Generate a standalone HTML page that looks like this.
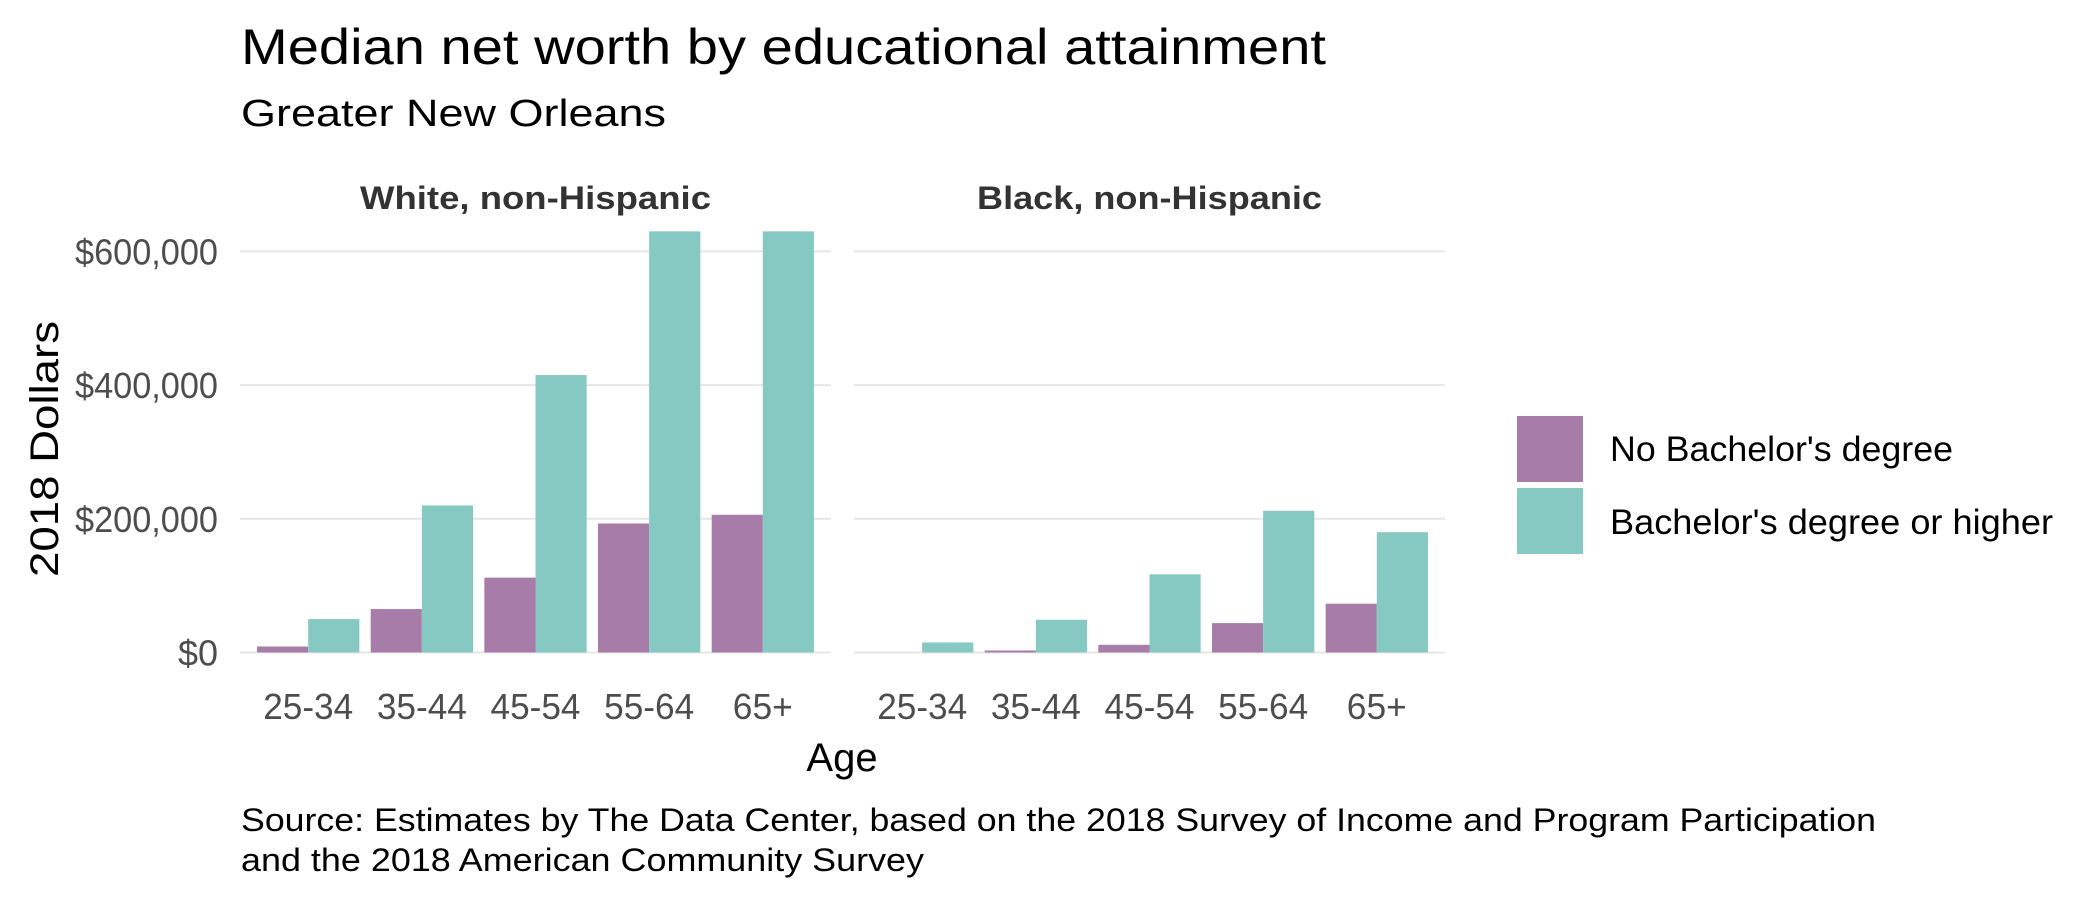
<!DOCTYPE html>
<html><head><meta charset="utf-8"><style>
html,body{margin:0;padding:0;background:#fff;}
svg{display:block;font-family:"Liberation Sans",sans-serif;}
</style></head><body>
<svg id="chart" width="2100" height="900" viewBox="0 0 2100 900">
<text x="241" y="64" font-size="50" fill="#000" textLength="1085" lengthAdjust="spacingAndGlyphs">Median net worth by educational attainment</text>
<text x="241" y="126" font-size="38" fill="#000" textLength="425" lengthAdjust="spacingAndGlyphs">Greater New Orleans</text>
<text x="535.5" y="209" font-size="32" font-weight="bold" fill="#333" text-anchor="middle" textLength="351" lengthAdjust="spacingAndGlyphs">White, non-Hispanic</text>
<text x="1149.5" y="209" font-size="32" font-weight="bold" fill="#333" text-anchor="middle" textLength="345" lengthAdjust="spacingAndGlyphs">Black, non-Hispanic</text>
<g id="grid"></g>
<g id="bars"></g>
<g id="yticks"></g>
<g id="xticks"></g>
<text transform="translate(58,449) rotate(-90)" font-size="40" fill="#000" text-anchor="middle" textLength="256" lengthAdjust="spacingAndGlyphs">2018 Dollars</text>
<text x="842" y="771" font-size="40" fill="#000" text-anchor="middle">Age</text>
<rect x="1517" y="416" width="66" height="66" fill="#a87ca8"/>
<rect x="1517" y="488" width="66" height="66" fill="#86c8c2"/>
<text x="1610" y="461" font-size="35" fill="#000" textLength="343" lengthAdjust="spacingAndGlyphs">No Bachelor's degree</text>
<text x="1610" y="534" font-size="35" fill="#000" textLength="443" lengthAdjust="spacingAndGlyphs">Bachelor's degree or higher</text>
<text x="241" y="831" font-size="32" fill="#000" textLength="1635" lengthAdjust="spacingAndGlyphs">Source: Estimates by The Data Center, based on the 2018 Survey of Income and Program Participation</text>
<text x="241" y="871" font-size="32" fill="#000" textLength="683" lengthAdjust="spacingAndGlyphs">and the 2018 American Community Survey</text>
</svg>
<script>
const categories = ["25-34","35-44","45-54","55-64","65+"];
const panels = ["White, non-Hispanic","Black, non-Hispanic"];
const whiteNoBach = [9000, 65000, 112000, 193000, 206000];
const whiteBach = [50000, 220000, 415000, 630000, 630000];
const blackNoBach = [0, 3000, 11500, 44000, 73000];
const blackBach = [15000, 49000, 117000, 212000, 180000];
const yTicks = [0, 200000, 400000, 600000];
const yTickLabels = ["$0","$200,000","$400,000","$600,000"];

const NS = "http://www.w3.org/2000/svg";
const panelX = [240, 854], panelW = 591;
const yMax = 630000;
function y(v){ return 652.5 - Math.min(v, yMax) * (401.1/600000); }
function xCenter(p, i){ const u = panelW/5.2; return panelX[p] + (0.6 + i) * u; }
const unit = panelW/5.2, barW = unit*0.45;
function mk(tag, attrs){ const e=document.createElementNS(NS,tag); for(const k in attrs) e.setAttribute(k, attrs[k]); return e; }

const grid=document.getElementById('grid'), bars=document.getElementById('bars'), yt=document.getElementById('yticks'), xt=document.getElementById('xticks');
const tickW = [null,143,143,143];
yTicks.forEach((t,i)=>{
  [0,1].forEach(p=>{
    const l = mk('line',{x1:panelX[p],x2:panelX[p]+panelW,y1:y(t),y2:y(t),stroke:'#e6e6e6','stroke-width':2});
    
    
    grid.appendChild(l);
  });
  const tx = mk('text',{x:218,y:y(t)+13,'font-size':36,fill:'#4d4d4d','text-anchor':'end'});
  if(tickW[i]){ tx.setAttribute('textLength',tickW[i]); tx.setAttribute('lengthAdjust','spacingAndGlyphs'); }
  tx.textContent = yTickLabels[i];
  
  
  yt.appendChild(tx);
});
const series = [[whiteNoBach, whiteBach],[blackNoBach, blackBach]];
const colors = ['#a87ca8','#86c8c2'];
[0,1].forEach(p=>{
  categories.forEach((c,i)=>{
    const cx = xCenter(p,i);
    [0,1].forEach(s=>{
      const v = series[p][s][i];
      const r = mk('rect',{x:cx - barW + s*barW, y:y(v), width:barW, height:652.5-y(v), fill:colors[s]});
      
      
      bars.appendChild(r);
    });
    const tx = mk('text',{x:cx,y:719,'font-size':36,fill:'#4d4d4d','text-anchor':'middle'});
    if(c!=="65+"){ tx.setAttribute('textLength',90); tx.setAttribute('lengthAdjust','spacingAndGlyphs'); }
    else { tx.setAttribute('textLength',60); tx.setAttribute('lengthAdjust','spacingAndGlyphs'); }
    tx.textContent = c;
    
    
    xt.appendChild(tx);
  });
});
</script>
</body></html>
